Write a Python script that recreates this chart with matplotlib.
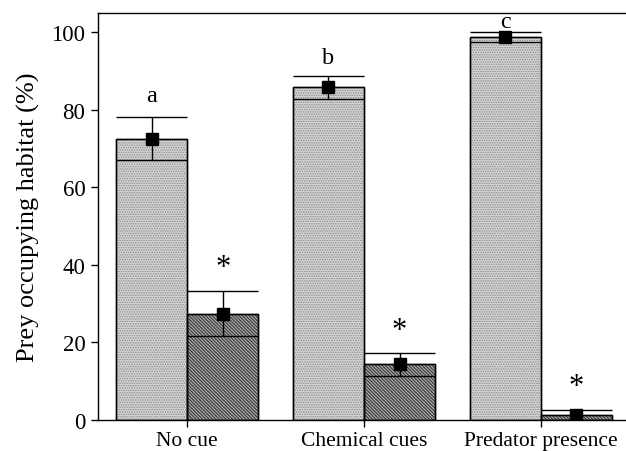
import matplotlib
matplotlib.use("Agg")
import matplotlib.pyplot as plt
import numpy as np

plt.rcParams['font.family'] = ['Liberation Serif', 'DejaVu Serif']
plt.rcParams['hatch.linewidth'] = 0.7

categories = ["No cue", "Chemical cues", "Predator presence"]
habitat_a_mean = [72.6, 85.8, 98.8]
habitat_a_se = [5.6, 2.9, 1.2]
habitat_b_mean = [27.4, 14.3, 1.2]
habitat_b_se = [5.8, 3.0, 1.2]
letters = ["a", "b", "c"]
letter_gap = [2.8, 2.2, 0.2]
star_gap = [6.2, 5.8, 6.2]

fig = plt.figure(figsize=(6.26, 4.52), dpi=100)
ax = fig.add_axes([0.1565, 0.0692, 0.845, 0.8998])

x = np.arange(len(categories))
w = 0.402

def draw_bars(xpos, means, ses, face, hatch, hcolor):
    ax.bar(xpos, means, width=w, align='edge', color=face, edgecolor='black',
           linewidth=1.0, zorder=2)
    ax.bar(xpos, means, width=w, align='edge', color='none', edgecolor=hcolor,
           linewidth=0, hatch=hatch, zorder=3)
    ax.bar(xpos, means, width=w, align='edge', color='none', edgecolor='black',
           linewidth=1.0, zorder=4)
    for xi, m, s in zip(xpos, means, ses):
        lo = max(m - s, 0)
        hi = m + s
        ax.hlines([lo, hi], xi, xi + w, colors='black', linewidth=1.0, zorder=5)
        ax.vlines(xi + w / 2, lo, hi, colors='black', linewidth=1.0, zorder=5)
        ax.plot([xi + w / 2], [m], marker='s', markersize=8, color='black',
                zorder=6)

xa = x - w
xb = x
draw_bars(xa, habitat_a_mean, habitat_a_se, '#d4d4d4', '.......', '#8a8a8a')
draw_bars(xb, habitat_b_mean, habitat_b_se, '#a8a8a8', '\\' * 10, '#2a2a2a')

for i in range(len(categories)):
    ax.text(xa[i] + w / 2, habitat_a_mean[i] + habitat_a_se[i] + letter_gap[i],
            letters[i], ha='center', va='bottom', fontsize=17.5)
    ax.text(xb[i] + w / 2, habitat_b_mean[i] + habitat_b_se[i] + star_gap[i],
            "*", ha='center', va='center', fontsize=22)

ax.set_xlim(-0.504, 2.487)
ax.set_ylim(0, 105)
ax.set_yticks([0, 20, 40, 60, 80, 100])
ax.set_xticks(x)
ax.set_xticklabels(categories, fontsize=15.5)
ax.tick_params(axis='y', labelsize=16.5, direction='out', length=5, width=1.0, pad=4)
ax.tick_params(axis='x', direction='out', length=5, width=1.0, pad=3)
ax.set_ylabel("Prey occupying habitat (%)", fontsize=19, labelpad=8)
ax.spines['right'].set_visible(False)
for s in ['left', 'top', 'bottom']:
    ax.spines[s].set_linewidth(1.0)

fig.savefig("out.png", dpi=100)
